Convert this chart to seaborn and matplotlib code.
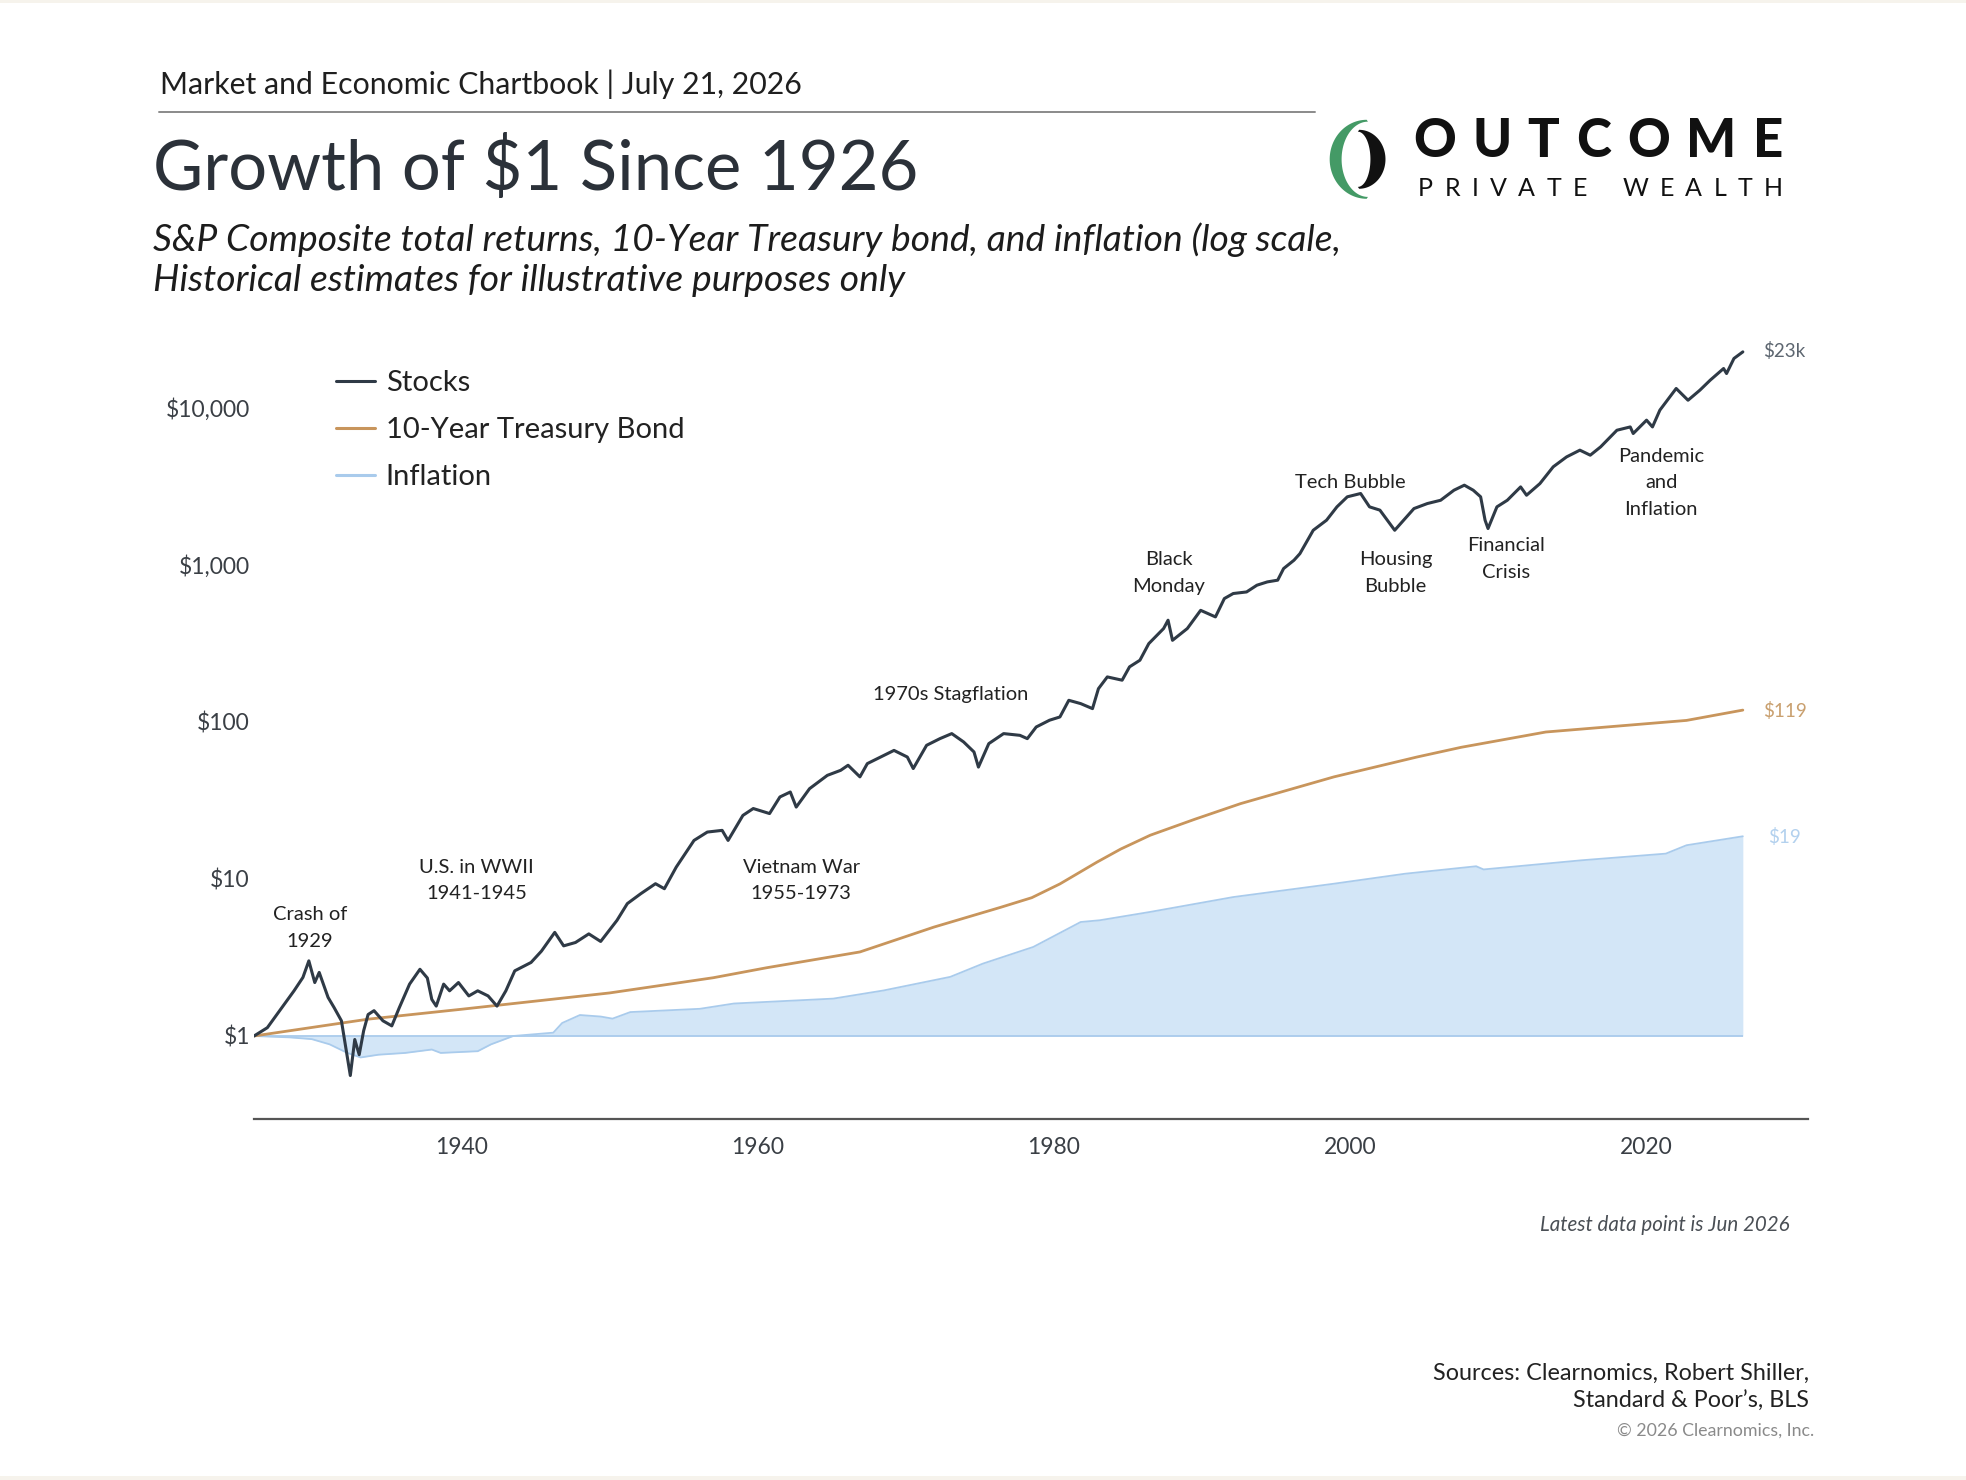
import numpy as np
import pandas as pd
import matplotlib
matplotlib.use("Agg")
import matplotlib.pyplot as plt
from matplotlib.lines import Line2D
from matplotlib.patches import Polygon, Rectangle
import seaborn as sns

# ---------------- data ----------------
stock_years = [1926.0, 1926.9, 1927.8, 1928.7, 1929.3, 1929.7, 1930.1, 1930.4, 1931.0, 1931.4,
               1931.9, 1932.2, 1932.5, 1932.8, 1933.1, 1933.4, 1933.7, 1934.1, 1934.7, 1935.3,
               1935.8, 1936.5, 1937.2, 1937.7, 1938.0, 1938.3, 1938.8, 1939.2, 1939.8, 1940.5,
               1941.1, 1941.8, 1942.4, 1943.0, 1943.6, 1944.7, 1945.4, 1946.3, 1946.9, 1947.7,
               1948.6, 1949.4, 1950.5, 1951.2, 1952.1, 1953.1, 1953.7, 1954.5, 1955.7, 1956.6,
               1957.6, 1958.0, 1959.0, 1959.7, 1960.8, 1961.5, 1962.2, 1962.6, 1963.5, 1964.7,
               1965.6, 1966.1, 1966.9, 1967.4, 1968.3, 1969.2, 1970.1, 1970.5, 1971.4, 1972.3,
               1973.1, 1973.9, 1974.6, 1974.9, 1975.6, 1976.6, 1977.7, 1978.2, 1978.8, 1979.7,
               1980.4, 1981.0, 1981.8, 1982.6, 1983.0, 1983.6, 1984.6, 1985.1, 1985.8, 1986.4,
               1987.4, 1987.7, 1988.0, 1989.0, 1989.9, 1990.9, 1991.5, 1992.1, 1993.0, 1993.7,
               1994.4, 1995.1, 1995.5, 1996.2, 1996.6, 1997.5, 1998.4, 1999.1, 1999.8, 2000.7,
               2001.3, 2002.0, 2002.5, 2003.0, 2003.6, 2004.3, 2005.2, 2006.1, 2007.0, 2007.7,
               2008.3, 2008.8, 2009.1, 2009.3, 2009.9, 2010.6, 2011.5, 2011.9, 2012.8, 2013.7,
               2014.6, 2015.5, 2016.2, 2016.9, 2018.0, 2018.9, 2019.1, 2020.0, 2020.4, 2020.9,
               2022.0, 2022.8, 2023.6, 2024.3, 2025.2, 2025.4, 2025.9, 2026.5]
stock_values = [1.00, 1.13, 1.48, 1.94, 2.36, 3.01, 2.19, 2.54, 1.76, 1.52,
                1.25, 0.84, 0.56, 0.95, 0.76, 1.08, 1.37, 1.45, 1.25, 1.16,
                1.51, 2.14, 2.66, 2.34, 1.71, 1.55, 2.14, 1.94, 2.19, 1.80,
                1.94, 1.80, 1.55, 1.94, 2.60, 2.94, 3.47, 4.57, 3.75, 3.94,
                4.47, 4.00, 5.45, 6.97, 8.05, 9.33, 8.67, 11.9, 17.6, 19.9,
                20.4, 17.6, 25.4, 28.1, 26.1, 33.3, 35.8, 28.7, 37.6, 45.7,
                49.2, 53.0, 44.7, 54.3, 59.8, 65.9, 59.8, 50.5, 71.0, 78.3,
                84.3, 74.6, 64.4, 51.6, 72.8, 84.3, 82.2, 78.3, 92.9, 102.6,
                107.6, 137.4, 130.9, 121.6, 162.9, 193.6, 184.5, 224.4, 247.2, 315.5,
                393.6, 444.6, 331.1, 393.6, 514.0, 466.7, 610.9, 657.7, 673.0, 743.0,
                779.8, 799.8, 948.4, 1071.5, 1180, 1663, 1928, 2344, 2716, 2851,
                2344, 2234, 1928, 1663, 1928, 2286, 2460, 2582, 2992, 3221,
                2992, 2716, 1928, 1706, 2344, 2582, 3141, 2780, 3296, 4217,
                4875, 5383, 5000, 5649, 7211, 7568, 6871, 8356, 7568, 9683,
                13300, 11194, 12972, 15031, 17824, 16558, 20654, 22750]

bond_years = [1926.0, 1933.7, 1940.0, 1950.0, 1957.0, 1960.6, 1966.9, 1971.9, 1976.4, 1978.5,
              1980.4, 1982.9, 1984.5, 1986.5, 1989.5, 1992.6, 1998.9, 2004.5, 2007.5, 2010.1,
              2013.2, 2022.7, 2026.5]
bond_values = [1.00, 1.28, 1.48, 1.88, 2.35, 2.72, 3.43, 4.94, 6.6, 7.6,
               9.3, 12.8, 15.5, 19.0, 24.0, 30.2, 44.7, 59.8, 69.0, 76.4,
               86.3, 102.3, 119.0]

infl_years = [1926.0, 1928.4, 1929.9, 1931.1, 1932.3, 1933.2, 1934.4, 1936.2, 1938.0, 1938.6,
              1941.1, 1942.0, 1943.5, 1946.2, 1946.8, 1948.0, 1949.4, 1950.2, 1951.4, 1956.1,
              1958.4, 1965.1, 1968.5, 1973.0, 1975.2, 1978.6, 1981.8, 1983.1, 1986.5, 1992.1,
              1998.9, 2003.7, 2008.5, 2009.0, 2015.6, 2021.3, 2022.7, 2026.5]
infl_values = [1.00, 0.98, 0.955, 0.885, 0.78, 0.73, 0.76, 0.78, 0.82, 0.78,
               0.80, 0.885, 1.00, 1.05, 1.21, 1.36, 1.33, 1.29, 1.42, 1.49,
               1.61, 1.73, 1.95, 2.38, 2.89, 3.69, 5.32, 5.46, 6.17, 7.67,
               9.33, 10.8, 12.05, 11.5, 13.15, 14.5, 16.4, 18.7]

series_names = ["Stocks", "10-Year Treasury Bond", "Inflation"]
end_labels = ["$23k", "$119", "$19"]
y_ticks = [1, 10, 100, 1000, 10000]
y_tick_labels = ["$1", "$10", "$100", "$1,000", "$10,000"]
x_ticks = [1940, 1960, 1980, 2000, 2020]

events = ["Crash of\n1929", "U.S. in WWII\n1941-1945", "Vietnam War\n1955-1973",
          "1970s Stagflation", "Black\nMonday", "Tech Bubble", "Housing\nBubble",
          "Financial\nCrisis", "Pandemic\nand\nInflation"]

# ---------------- style ----------------
C_STOCK = "#2f3a46"
C_BOND = "#c8955c"
C_INFL_LINE = "#a9cbec"
C_INFL_FILL = "#d3e6f7"
C_TEXT = "#222222"

sns.set_theme(style="white")
plt.rcParams["font.family"] = ["Lato", "DejaVu Sans"]

W, H = 1568.0, 1180.0  # reference layout units


def fx(x):
    return x / W


def fy(y):
    return 1 - y / H


fig = plt.figure(figsize=(19.66, 14.8), dpi=100)
fig.patch.set_facecolor("white")

ax = fig.add_axes([fx(202.6), fy(892), fx(1442) - fx(202.6), fy(262) - fy(892)])
ax.set_facecolor("white")

df_s = pd.DataFrame({"year": stock_years, "value": stock_values})
df_b = pd.DataFrame({"year": bond_years, "value": bond_values})
df_i = pd.DataFrame({"year": infl_years, "value": infl_values})

ax.fill_between(df_i["year"], 1, df_i["value"], color=C_INFL_FILL, lw=0, zorder=1)
ax.hlines(1, infl_years[0], infl_years[-1], color=C_INFL_LINE, lw=1.3, zorder=2)
sns.lineplot(data=df_i, x="year", y="value", ax=ax, color=C_INFL_LINE, lw=1.3, zorder=2)
sns.lineplot(data=df_b, x="year", y="value", ax=ax, color=C_BOND, lw=2.0, zorder=3)
sns.lineplot(data=df_s, x="year", y="value", ax=ax, color=C_STOCK, lw=2.2, zorder=4)

ax.set_yscale("log")
ax.set_xlim(1926.0, 2030.9)
ax.set_ylim(0.297, 32000)
ax.set_yticks(y_ticks)
ax.set_yticklabels(y_tick_labels)
ax.yaxis.set_minor_locator(matplotlib.ticker.NullLocator())
ax.set_xticks(x_ticks)
ax.set_xticklabels([str(t) for t in x_ticks])
ax.tick_params(axis="y", length=0, pad=3, labelsize=16.5, labelcolor="#3a3f45")
ax.tick_params(axis="x", length=0, pad=13, labelsize=16.5, labelcolor="#3a3f45")
ax.set_xlabel("")
ax.set_ylabel("")
for s in ["top", "right", "left"]:
    ax.spines[s].set_visible(False)
ax.spines["bottom"].set_color("#555555")
ax.spines["bottom"].set_linewidth(1.6)
ax.grid(False)

# legend
handles = [Line2D([], [], color=C_STOCK, lw=2.2),
           Line2D([], [], color=C_BOND, lw=2.2),
           Line2D([], [], color=C_INFL_LINE, lw=2.2)]
fig.legend(handles, series_names, loc="upper left", bbox_to_anchor=(fx(268), fy(295)),
           frameon=False, fontsize=21, handlelength=1.35, handletextpad=0.35,
           labelspacing=0.72, borderpad=0, borderaxespad=0, labelcolor=C_TEXT)

# end labels
end_pos = [(1406, 280, "#5d6670"), (1406, 567, "#c9a06f"), (1410, 667, "#b3d1ee")]
for lab, (x, y, c) in zip(end_labels, end_pos):
    fig.text(fx(x), fy(y), lab, ha="left", va="center", fontsize=13.5, color=c)

# event annotations
ev_pos = [(247, 740), (380, 702), (639, 702), (758, 554), (932, 457), (1077, 385),
          (1113, 457), (1201, 446), (1325, 385)]
for lab, (x, y) in zip(events, ev_pos):
    fig.text(fx(x), fy(y), lab, ha="center", va="center", fontsize=14.5,
             color=C_TEXT, linespacing=1.7, multialignment="center")

# header
fig.text(fx(128), fy(67), "Market and Economic Chartbook | July 21, 2026", ha="left",
         va="center", fontsize=21.8, color="#1f1f1f")
fig.add_artist(Line2D([fx(127), fx(1049)], [fy(89), fy(89)], color="#8a8a8a", lw=1.4))
fig.text(fx(122), fy(135), "Growth of $1 Since 1926", ha="left", va="center",
         fontsize=49.5, color="#2b3139")
fig.text(fx(122), fy(191),
         "S&P Composite total returns, 10-Year Treasury bond, and inflation (log scale,",
         ha="left", va="center", fontsize=26.8, style="italic", color="#1c1c1c")
fig.text(fx(122), fy(224), "Historical estimates for illustrative purposes only",
         ha="left", va="center", fontsize=26.8, style="italic", color="#1c1c1c")

# logo mark
t = np.linspace(np.pi / 2, 3 * np.pi / 2, 60)
outer = np.column_stack([1090 + 29.5 * np.cos(t), 127 + 31.5 * np.sin(t)])
inner = np.column_stack([1091 + 21 * np.cos(t[::-1]), 127 + 30 * np.sin(t[::-1])])
pts = np.vstack([outer, inner])
fig.add_artist(Polygon(np.column_stack([fx(pts[:, 0]), fy(pts[:, 1])]), closed=True,
                       transform=fig.transFigure, color="#449a66", lw=0))
t2 = np.linspace(-np.pi / 2, np.pi / 2, 60)
outer2 = np.column_stack([1084 + 21 * np.cos(t2), 127 + 23.5 * np.sin(t2)])
inner2 = np.column_stack([1083 + 10 * np.cos(t2[::-1]), 127 + 22 * np.sin(t2[::-1])])
pts2 = np.vstack([outer2, inner2])
fig.add_artist(Polygon(np.column_stack([fx(pts2[:, 0]), fy(pts2[:, 1])]), closed=True,
                       transform=fig.transFigure, color="#111111", lw=0))

# logo word marks with even letter spacing
renderer = fig.canvas.get_renderer()
scale = 1966.0 / W


def spaced_word(word, x0, x1, y, size, weight):
    arts = [fig.text(0, fy(y), ch, ha="left", va="center", fontsize=size,
                     fontweight=weight, color="#111111") for ch in word]
    widths = [a.get_window_extent(renderer=renderer).width / scale for a in arts]
    gap = (x1 - x0 - sum(widths)) / (len(word) - 1)
    x = x0
    for a, w in zip(arts, widths):
        a.set_x(fx(x))
        x += w + gap


spaced_word("OUTCOME", 1127, 1422, 113, 38, "black")
spaced_word("PRIVATE\u2002WEALTH", 1131, 1422, 150, 18, "normal")

# footnotes
fig.text(fx(1427), fy(977), "Latest data point is Jun 2026", ha="right", va="center",
         fontsize=14.8, style="italic", color="#4a4f55")
fig.text(fx(1443), fy(1106), "Sources: Clearnomics, Robert Shiller,\nStandard & Poor\u2019s, BLS",
         ha="right", va="center", fontsize=16.8, color=C_TEXT, linespacing=1.4,
         multialignment="right")
fig.text(fx(1447), fy(1141), "\u00a9 2026 Clearnomics, Inc.", ha="right", va="center",
         fontsize=12.8, color="#8a8a8a")

# thin beige page bands
fig.add_artist(Rectangle((0, fy(2.5)), 1, 2.5 / H, transform=fig.transFigure,
                         color="#f6f3ec", lw=0))
fig.add_artist(Rectangle((0, 0), 1, 3 / H, transform=fig.transFigure,
                         color="#f6f3ec", lw=0))

fig.savefig("out.png", dpi=100, facecolor="white")
